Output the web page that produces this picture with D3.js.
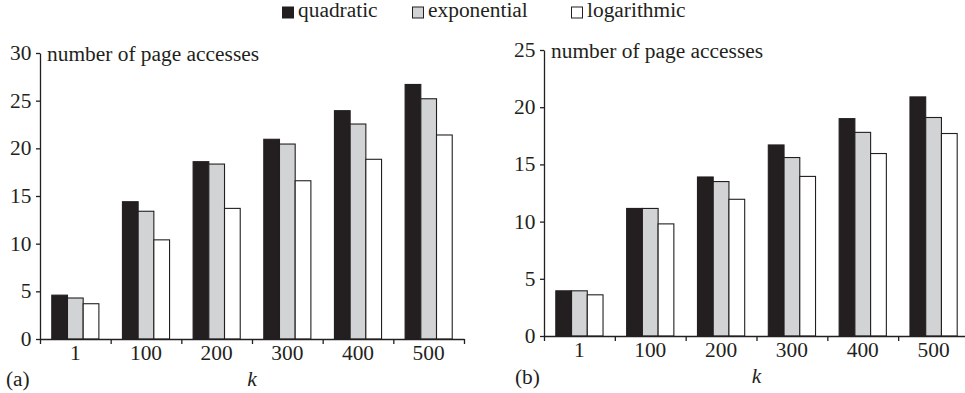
<!DOCTYPE html>
<html>
<head>
<meta charset="utf-8">
<script src="https://cdn.jsdelivr.net/npm/d3@7"></script>
<style>
  body { margin: 0; background: #fff; }
  svg text { font-family: "Liberation Serif", "Times New Roman", serif; font-size: 20px; fill: #231f20; }
</style>
</head>
<body>
<div class="chart"></div>
<script>
let svgWidth = 965;
let svgHeight = 393;

// data
let categories = ["1", "100", "200", "300", "400", "500"];
let seriesNames = ["quadratic", "exponential", "logarithmic"];
let seriesColors = ["#231f20", "#d1d3d4", "#ffffff"];

// panel (a)
let quadraticA = [4.6, 14.4, 18.6, 20.95, 23.95, 26.7];
let exponentialA = [4.3, 13.4, 18.35, 20.45, 22.55, 25.2];
let logarithmicA = [3.7, 10.4, 13.7, 16.6, 18.85, 21.4];
let yTicksA = [0, 5, 10, 15, 20, 25, 30];

// panel (b)
let quadraticB = [3.95, 11.15, 13.9, 16.7, 19.0, 20.9];
let exponentialB = [3.95, 11.15, 13.5, 15.6, 17.8, 19.1];
let logarithmicB = [3.6, 9.8, 11.95, 13.95, 15.95, 17.7];
let yTicksB = [0, 5, 10, 15, 20, 25];

// the source text is a little wider than plain Times
let stretch = "scale(1.07,1)";

let svg = d3.select(".chart")
  .append("svg")
  .attr("width", svgWidth)
  .attr("height", svgHeight);

function drawPanel(opts) {
  let rows = categories.map((c, i) => ({
    cat: c,
    vals: opts.series.map((s, j) => ({ name: seriesNames[j], v: s[i], color: seriesColors[j] }))
  }));

  let x0 = d3.scaleBand()
    .domain(categories)
    .range([opts.left, opts.right])
    .padding(0);

  let x1 = d3.scaleBand()
    .domain(seriesNames)
    .range([0, x0.bandwidth()])
    .paddingInner(0)
    .paddingOuter(0.75);

  let y = d3.scaleLinear()
    .domain([0, opts.yMax])
    .range([opts.bottom, opts.top]);

  let g = svg.append("g");

  // bars
  g.selectAll("g.grp")
    .data(rows)
    .enter()
    .append("g")
    .attr("class", "grp")
    .attr("transform", d => `translate(${x0(d.cat)},0)`)
    .selectAll("rect")
    .data(d => d.vals)
    .enter()
    .append("rect")
    .attr("x", d => x1(d.name))
    .attr("y", d => y(d.v))
    .attr("width", x1.bandwidth())
    .attr("height", d => y(0) - y(d.v))
    .attr("fill", d => d.color)
    .attr("stroke", "#231f20")
    .attr("stroke-width", 1.1);

  // y axis
  let yAxis = g.append("g")
    .attr("transform", `translate(${opts.left},0)`)
    .call(d3.axisLeft(y).tickValues(opts.yTicks).tickSize(4).tickPadding(4).tickSizeOuter(0));
  yAxis.select(".domain").attr("stroke", "#231f20").attr("stroke-width", 1.3);
  yAxis.selectAll(".tick line").attr("stroke", "#231f20").attr("stroke-width", 1.3);
  yAxis.selectAll("text")
    .attr("fill", "#231f20")
    .style("font-size", "20px")
    .attr("transform", stretch);

  // x axis, ticks sit on the band edges
  let edgeScale = d3.scaleLinear().domain([0, categories.length]).range([opts.left, opts.right]);
  let xAxis = g.append("g")
    .attr("transform", `translate(0,${opts.bottom})`)
    .call(d3.axisBottom(edgeScale).tickValues(d3.range(categories.length + 1)).tickSize(5).tickFormat("").tickSizeOuter(0));
  xAxis.select(".domain").attr("stroke", "#231f20").attr("stroke-width", 1.3);
  xAxis.selectAll(".tick line").attr("stroke", "#231f20").attr("stroke-width", 1.3);

  let xLabels = g.append("g")
    .attr("transform", `translate(0,${opts.bottom})`)
    .call(d3.axisBottom(x0).tickSize(0).tickPadding(7));
  xLabels.select(".domain").remove();
  xLabels.selectAll("text")
    .attr("fill", "#231f20")
    .style("font-size", "20px")
    .attr("transform", stretch);

  // y label
  g.append("text")
    .attr("transform", `translate(${opts.left + 7},${opts.top + 8}) ${stretch}`)
    .text("number of page accesses");

  // k label
  g.append("text")
    .attr("transform", `translate(${(opts.left + opts.right) / 2},${opts.bottom + 47}) ${stretch}`)
    .attr("text-anchor", "middle")
    .style("font-style", "italic")
    .text("k");

  // panel tag
  g.append("text")
    .attr("transform", `translate(${opts.tagX},${opts.bottom + opts.tagDy}) ${stretch}`)
    .text(opts.tag);
}

drawPanel({
  series: [quadraticA, exponentialA, logarithmicA],
  yTicks: yTicksA, yMax: 30,
  left: 40, right: 464, top: 53, bottom: 339,
  tag: "(a)", tagX: 6, tagDy: 47
});

drawPanel({
  series: [quadraticB, exponentialB, logarithmicB],
  yTicks: yTicksB, yMax: 25,
  left: 544, right: 969, top: 50, bottom: 336,
  tag: "(b)", tagX: 515, tagDy: 48
});

// legend
let legendX = [282, 412, 571];
let legend = svg.append("g");
let items = legend.selectAll("g")
  .data(seriesNames)
  .enter()
  .append("g")
  .attr("transform", (d, i) => `translate(${legendX[i]},0)`);
items.append("rect")
  .attr("x", 0.5)
  .attr("y", 7)
  .attr("width", 11)
  .attr("height", 11)
  .attr("fill", (d, i) => seriesColors[i])
  .attr("stroke", "#231f20")
  .attr("stroke-width", 1);
items.append("text")
  .attr("transform", `translate(16,17) ${stretch}`)
  .text(d => d);
</script>
</body>
</html>
